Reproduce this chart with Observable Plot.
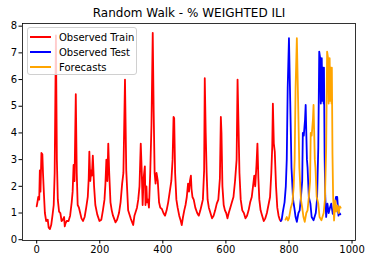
<!DOCTYPE html>
<html><head><meta charset="utf-8">
<script src="https://cdn.jsdelivr.net/npm/d3@7"></script>
<script src="https://cdn.jsdelivr.net/npm/@observablehq/plot@0.6"></script>
<style>
html,body{margin:0;padding:0;background:#fff;}
#wrap{position:relative;width:370px;height:264px;font-family:"DejaVu Sans",sans-serif;}
#legend{position:absolute;left:27px;top:27px;width:110px;height:48px;box-sizing:border-box;border:1px solid #d0d0d0;border-radius:3px;background:rgba(255,255,255,0.8);font-size:10px;color:#000;}
#legend .row{position:absolute;left:2px;height:14px;display:flex;align-items:center;}
#legend .sw{display:inline-block;width:21px;height:2px;margin-right:8px;}
</style></head>
<body><div id="wrap"><div id="legend"></div></div>
<script>
const title = "Random Walk - % WEIGHTED ILI";
const seriesNames = ["Observed Train", "Observed Test", "Forecasts"];
const seriesColors = ["red", "blue", "orange"];
const xTicks = [0, 200, 400, 600, 800, 1000];
const yTicks = [0, 1, 2, 3, 4, 5, 6, 7, 8];

const trainX = [0,3,5,8,10,12,15,18,20,23,
 26,30,35,38,42,46,50,54,57,61,
 64,67,71,75,79,83,87,89,91,95,
 101,106,111,114,117,120,124,127,130,134,
 138,142,147,152,157,162,165,167,170,173,
 175,178,182,186,192,199,205,210,215,218,
 221,224,227,230,234,238,242,250,255,261,
 266,271,275,280,284,290,298,306,310,314,
 318,322,326,330,333,336,339,343,345,348,
 350,353,356,360,364,368,371,374,377,380,
 384,388,392,397,402,407,412,417,422,427,
 431,434,436,439,443,447,452,457,460,464,
 468,472,476,480,483,486,489,491,494,498,
 503,509,514,519,523,527,531,533,536,539,
 542,546,551,556,561,566,571,576,581,584,
 586,589,593,597,601,605,609,614,619,624,
 629,634,637,640,643,647,652,657,662,667,
 672,677,682,686,690,693,697,700,703,706,
 710,715,720,725,730,735,740,744,747,749,
 752,755,759,763,767,771,774];
const trainY = [1.25,1.45,1.6,1.5,2.6,1.8,3.25,3.2,2.5,1.7,
 1.0,0.7,0.75,0.45,0.4,0.55,0.9,1.3,2.5,7.65,
 3.0,1.5,1.05,1.0,0.7,0.75,0.85,0.5,0.6,0.7,
 0.7,0.9,1.4,1.8,2.8,2.2,5.45,2.5,1.3,1.2,
 1.0,0.8,0.7,0.85,1.2,1.6,2.3,3.3,2.2,2.6,
 2.4,3.15,2.0,1.3,0.95,0.7,0.75,1.1,1.5,2.1,
 3.0,2.2,3.6,2.5,1.4,1.1,0.9,0.65,0.75,1.0,
 1.4,2.1,2.5,6.0,2.6,1.1,0.8,0.55,0.9,1.05,
 1.2,1.5,2.0,3.6,2.6,1.3,2.3,2.75,1.3,2.0,
 1.4,1.5,1.2,2.5,4.3,7.75,4.8,2.5,2.1,2.5,
 2.2,1.4,1.2,1.15,1.0,0.9,1.1,1.4,1.8,2.2,
 3.0,4.6,4.55,2.5,1.5,1.2,0.9,0.7,0.55,0.85,
 1.1,1.3,1.6,2.1,1.8,2.2,2.4,1.9,1.6,1.5,
 1.2,1.0,0.9,1.1,1.3,1.5,2.6,6.05,4.0,2.5,
 1.5,1.2,1.0,0.8,0.9,1.1,1.35,1.5,2.3,4.6,
 4.0,2.0,1.3,1.1,1.0,0.8,1.0,1.2,1.4,1.6,
 2.2,3.0,6.0,4.3,2.5,1.5,1.1,1.0,0.8,0.9,
 1.1,1.4,1.6,2.0,2.4,2.0,2.8,3.6,2.3,1.5,
 1.1,0.9,0.7,0.8,1.0,1.3,1.6,2.5,3.5,5.1,
 3.6,3.3,2.0,1.2,0.9,0.75,0.7];

const testX = [774,777,780,783,786,790,793,796,800,804,
 808,813,817,821,825,830,834,838,842,844,
 847,849,851,853,855,857,859,863,868,872,
 878,885,889,893,896,899,901,904,906,908,
 910,911,913,915,918,922,926,930,934,939,
 944,949,953,957,960,963];
const testY = [0.7,0.75,1.0,1.2,1.4,2.0,3.0,5.7,7.55,5.2,
 2.7,1.5,1.2,0.85,0.67,1.0,1.1,1.6,2.2,4.0,
 3.9,4.2,4.5,5.05,4.0,3.0,2.7,1.6,1.35,0.85,
 0.73,1.0,1.5,3.45,7.05,6.8,5.1,6.8,5.2,6.45,
 5.1,6.45,3.2,1.65,0.85,1.35,1.0,1.2,1.35,0.97,
 1.1,1.6,1.6,0.9,1.0,0.95];

const fcX = [789,793,797,800,803,806,811,815,818,821,
 825,829,833,838,842,846,850,855,859,863,
 867,869,872,874,876,878,880,882,884,888,
 893,897,903,910,914,918,921,924,926,929,
 931,933,935,936,938,940,943,947,950,954,
 958,961,964];
const fcY = [0.75,0.85,0.72,0.8,1.0,1.2,1.4,2.0,3.0,5.7,
 7.55,5.2,2.7,1.5,1.2,0.85,0.67,1.0,1.1,1.6,
 2.2,4.0,3.9,4.2,4.5,5.05,4.0,3.0,2.7,1.6,
 1.35,0.85,0.73,1.0,1.5,3.45,7.05,6.8,5.1,6.8,
 5.2,6.45,5.1,6.45,3.2,1.65,0.72,1.47,1.05,1.28,
 1.0,1.25,1.2];

const toRows = (xs, ys) => xs.map((x, i) => ({x, y: ys[i]}));
const series = [toRows(trainX, trainY), toRows(testX, testY), toRows(fcX, fcY)];

const chart = Plot.plot({
  width: 370, height: 264,
  marginLeft: 22, marginRight: 15, marginTop: 23, marginBottom: 24,
  style: {fontFamily: "DejaVu Sans, sans-serif", fontSize: "10px", color: "#000", background: "#fff"},
  x: {domain: [-45, 1011]},
  y: {domain: [-0.03, 8.1]},
  marks: [
    ...series.map((d, i) => Plot.line(d, {x: "x", y: "y", stroke: seriesColors[i], strokeWidth: 1.8})),
    Plot.frame({stroke: "#000", strokeWidth: 0.8}),
    Plot.axisX({ticks: xTicks, tickSize: 3.5, tickPadding: 2, label: null, tickFormat: d => String(d)}),
    Plot.axisY({ticks: yTicks, tickSize: 3.5, tickPadding: 2, label: null, tickFormat: d => String(d)}),
    Plot.text([title], {text: d => d, frameAnchor: "top", lineAnchor: "middle", dy: -10, fontSize: 12, fill: "#000"})
  ]
});
const wrap = document.getElementById("wrap");
wrap.insertBefore(chart, wrap.firstChild);

const legend = document.getElementById("legend");
seriesNames.forEach((name, i) => {
  const row = document.createElement("div");
  row.className = "row";
  row.style.top = (2 + i * 15) + "px";
  const sw = document.createElement("span");
  sw.className = "sw";
  sw.style.background = seriesColors[i];
  const t = document.createElement("span");
  t.textContent = name;
  row.appendChild(sw); row.appendChild(t);
  legend.appendChild(row);
});
</script></body></html>
